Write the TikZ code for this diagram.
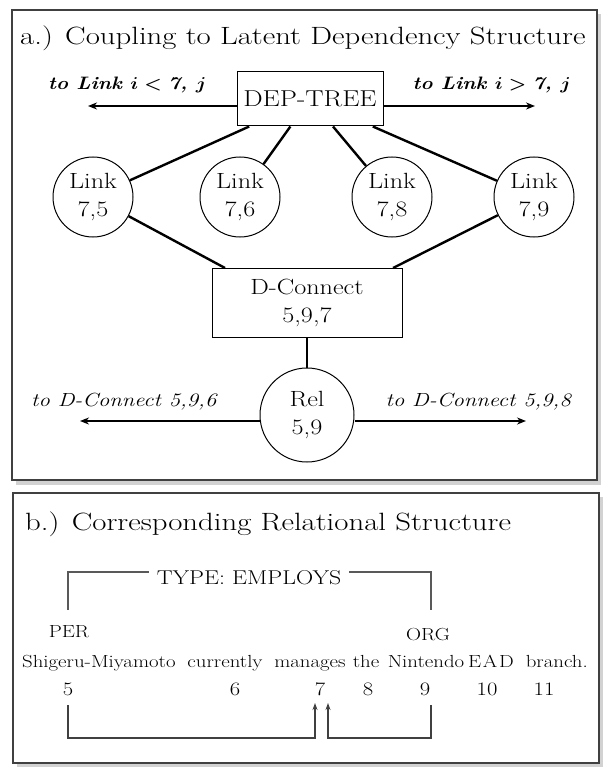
\documentclass[tikz,border=0pt]{standalone}
\usepackage{graphicx}
\usetikzlibrary{arrows.meta}
\newcommand{\hs}[1]{\scalebox{1.19}[1]{#1}}
\newcommand{\hst}[1]{\scalebox{1.23}[1]{#1}}
\newcommand{\hsl}[1]{\scalebox{1.13}[1]{#1}}
\begin{document}
\begin{tikzpicture}[x=1pt,y=-1pt,
  panel/.style={draw=black!75, line width=2.2pt, fill=white},
  shadowbox/.style={fill=black!35, draw=none},
  circnode/.style={draw, circle, line width=1pt, inner sep=0pt, align=center, font=\fontsize{22}{28}\selectfont},
  boxnode/.style={draw, rectangle, line width=1pt, inner sep=0pt, align=center},
  conn/.style={line width=2.4pt},
  arr/.style={line width=2.4pt, -{Stealth[length=9pt,width=7pt]}},
  toplab/.style={font=\fontsize{18}{22}\selectfont\bfseries\itshape\boldmath},
  botlab/.style={font=\fontsize{19}{23}\selectfont\itshape},
  brk/.style={draw=black!65, line width=1.5pt},
  warr/.style={draw=black!75, line width=1.5pt, -{Stealth[length=7pt,width=5pt]}},
  word/.style={anchor=base, inner sep=0pt, font=\fontsize{17.5}{22}\selectfont},
  num/.style={anchor=base, inner sep=0pt, font=\fontsize{19}{22}\selectfont}
]
\useasboundingbox (0,0) rectangle (604,767);
\fill[white] (0,0) rectangle (604,767);
% shadows
\fill[shadowbox, opacity=0.5] (16,14) rectangle (601,485);
\fill[shadowbox, opacity=0.5] (17,497) rectangle (603,767);
% panels
\draw[panel] (12,10) rectangle (597,480);
\draw[panel] (13,493) rectangle (599,763);

% ---------- panel a ----------
\node[anchor=base west, inner sep=0pt, font=\fontsize{25}{30}\selectfont] (titleA) at (20,45) {\hst{a.) Coupling to Latent Dependency Structure}};

\node[boxnode, minimum width=146pt, minimum height=54pt, font=\fontsize{23}{28}\selectfont] (dep) at (310,99) {\hs{DEP-TREE}};

\node[circnode, minimum size=80pt] (l75) at (93,197) {\hs{Link}\\\hs{7,5}};
\node[circnode, minimum size=80pt] (l76) at (240,197) {\hs{Link}\\\hs{7,6}};
\node[circnode, minimum size=80pt] (l78) at (392,197) {\hs{Link}\\\hs{7,8}};
\node[circnode, minimum size=80pt] (l79) at (534,197) {\hs{Link}\\\hs{7,9}};

\node[boxnode, minimum width=190pt, minimum height=69pt, font=\fontsize{22}{28}\selectfont] (dc) at (307,302.5) {\hs{D-Connect}\\\hs{5,9,7}};

\node[circnode, minimum size=94pt] (rel) at (307,415) {\hs{Rel}\\\hs{5,9}};

\coordinate (aL) at (88,106);
\coordinate (aR) at (535,106);
\coordinate (bL) at (80,421);
\coordinate (bR) at (526,421);
\coordinate (dcL) at (225,268);
\coordinate (dcR) at (393,268);

\draw[arr] (dep.west |- aL) -- (aL);
\draw[arr] (dep.east |- aR) -- (aR);
\draw[conn] (dep) -- (l75);
\draw[conn] (dep) -- (l76);
\draw[conn] (dep) -- (l78);
\draw[conn] (dep) -- (l79);
\draw[conn] (l75) -- (dcL);
\draw[conn] (l79) -- (dcR);
\draw[conn] (dc) -- (rel);
\draw[arr] (rel.west |- bL) -- (bL);
\draw[arr] (rel.east |- bR) -- (bR);

\node[toplab, anchor=base west, inner sep=0pt] (labA1) at (48,90) {\hsl{to Link $i<{}$7, $j$}};
\node[toplab, anchor=base east, inner sep=0pt] (labA2) at (571,90) {\hsl{to Link $i>{}$7, $j$}};
\node[botlab, anchor=base west, inner sep=0pt] (labB1) at (31,406) {\hs{to D-Connect 5,9,6}};
\node[botlab, anchor=base east, inner sep=0pt] (labB2) at (571,406) {\hs{to D-Connect 5,9,8}};

% ---------- panel b ----------
\node[anchor=base west, inner sep=0pt, font=\fontsize{25}{30}\selectfont] (titleB) at (25,530) {\hst{b.) Corresponding Relational Structure}};

\node[anchor=base, inner xsep=8pt, inner ysep=0pt, font=\fontsize{20}{24}\selectfont] (type) at (249,584) {\hs{TYPE: EMPLOYS}};
\coordinate (tl0) at (68,610);
\coordinate (tl1) at (68,572);
\coordinate (tr1) at (431,572);
\coordinate (tr0) at (431,610);
\draw[brk] (tl0) -- (tl1) -- (type.west |- tl1);
\draw[brk] (type.east |- tr1) -- (tr1) -- (tr0);

\node[word] (per) at (69,637) {\hs{PER}};
\node[word] (org) at (428,640) {\hs{ORG}};

\node[word, anchor=base west] (w1) at (22,667) {\hs{Shigeru-Miyamoto}};
\node[word] (w2) at (225,667) {\hs{currently}};
\node[word] (w3) at (310,667) {\hs{manages}};
\node[word] (w4) at (366,667) {\hs{the}};
\node[word] (w5) at (426,667) {\hs{Nintendo}};
\node[word] (w6) at (491,667) {\hs{E\kern1.5pt A\kern1.5pt D}};
\node[word, anchor=base east] (w7) at (588,667) {\hs{branch.}};

\node[num] (n5) at (68,695) {\hs{5}};
\node[num] (n6) at (235,695) {\hs{6}};
\node[num] (n7) at (320,695) {\hs{7}};
\node[num] (n8) at (368,695) {\hs{8}};
\node[num] (n9) at (425,695) {\hs{9}};
\node[num] (n10) at (487,695) {\hs{10}};
\node[num] (n11) at (544,695) {\hs{11}};

\coordinate (p1) at (68,705);
\coordinate (p2) at (68,738);
\coordinate (p3) at (315,738);
\coordinate (p4) at (315,703);
\coordinate (q1) at (431,705);
\coordinate (q2) at (431,738);
\coordinate (q3) at (328,738);
\coordinate (q4) at (328,703);
\draw[warr] (p1) -- (p2) -- (p3) -- (p4);
\draw[warr] (q1) -- (q2) -- (q3) -- (q4);
\end{tikzpicture}
\end{document}
